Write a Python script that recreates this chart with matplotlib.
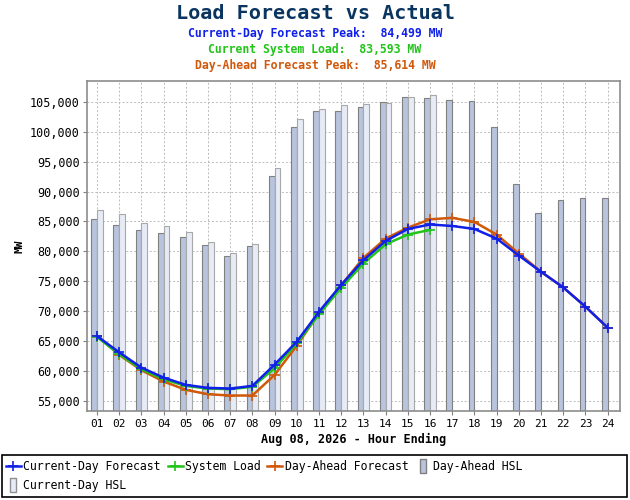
import numpy as np
import matplotlib
matplotlib.use("Agg")
import matplotlib.pyplot as plt
from matplotlib.lines import Line2D
from matplotlib.patches import Rectangle
from matplotlib.ticker import FuncFormatter

plt.rcParams['font.family'] = ['DejaVu Sans Mono']

hours = list(range(1, 25))
hour_labels = ["%02d" % h for h in hours]

current_day_fc = [65840, 63120, 60560, 58890, 57670, 57170, 57060, 57500, 61060, 64900,
                  69900, 74400, 78520, 81750, 83750, 84499, 84250, 83750, 82140, 79300,
                  76580, 73960, 70740, 67230]
system_load = [65700, 62800, 60300, 58600, 57500, 57050, 56950, 57350, 60450, 64620,
               69460, 73910, 77970, 81190, 82810, 83593]
day_ahead_fc = [65900, 62700, 60120, 58230, 56840, 56110, 55890, 55890, 59340, 64230,
                69700, 74350, 78910, 82140, 83970, 85360, 85614, 84920, 82810, 79640,
                76580, 73960, 70740, 67230]
day_ahead_hsl = [85480, 84360, 83530, 83140, 82470, 81140, 79250, 80860, 92540, 100770,
                 103440, 103440, 104220, 105000, 105880, 105660, 105330, 105220, 100770, 91310,
                 86370, 88650, 88920, 88980]
current_day_hsl = [86980, 86310, 84750, 84250, 83310, 81640, 79690, 81300, 93980, 102210,
                   103770, 104490, 104660, 104770, 105770, 106110]

blue = '#1020e8'
green = '#22c41a'
orange = '#d0580a'
da_bar = '#b8c4de'
cd_bar = '#e6ebf6'

fig = plt.figure(figsize=(6.3, 5.0), dpi=100)
ax = fig.add_axes([0.138, 0.178, 0.846, 0.66])

h = np.array(hours)
w = 0.26
ax.bar(h - w, day_ahead_hsl, width=w, align='edge', color=da_bar, edgecolor='#808080',
       linewidth=0.8, zorder=2)
ax.bar(h[:len(current_day_hsl)], current_day_hsl, width=w, align='edge', color=cd_bar,
       edgecolor='#a8a8a8', linewidth=0.8, zorder=2)

ax.plot(h, day_ahead_fc, color=orange, lw=1.8, marker='+', ms=6.5, mew=1.2, zorder=3)
ax.plot(h[:len(system_load)], system_load, color=green, lw=1.8, marker='+', ms=6.5, mew=1.2, zorder=4)
ax.plot(h, current_day_fc, color=blue, lw=1.8, marker='+', ms=6.5, mew=1.2, zorder=5)

ax.set_xlim(0.55, 24.55)
ax.set_ylim(53300, 108500)
ax.set_xticks(hours)
ax.set_xticklabels(hour_labels, fontsize=8)
ax.set_yticks(range(55000, 105001, 5000))
ax.yaxis.set_major_formatter(FuncFormatter(lambda v, p: "{:,.0f}".format(v)))
ax.tick_params(axis='y', labelsize=8.5, length=3, color='#808080', pad=2)
ax.tick_params(axis='x', length=3, color='#808080', pad=3)
ax.grid(True, color='#bbbbbb', linestyle=(0, (2, 2)), linewidth=0.7, zorder=0)
ax.set_axisbelow(True)
for s in ax.spines.values():
    s.set_color('#8c8c8c')
    s.set_linewidth(1.2)

ax.set_ylabel('MW', fontsize=8, fontweight='bold', labelpad=4)
fig.text(0.561, 0.122, 'Aug 08, 2026 - Hour Ending', ha='center', va='center',
         fontsize=8.5, fontweight='bold')

fig.text(0.5, 0.973, 'Load Forecast vs Actual', ha='center', va='center',
         fontsize=14.5, fontweight='bold', color='#0a3560')
fig.text(0.5, 0.934, 'Current-Day Forecast Peak:  84,499 MW', ha='center', va='center',
         fontsize=8.3, fontweight='bold', color=blue)
fig.text(0.5, 0.902, 'Current System Load:  83,593 MW', ha='center', va='center',
         fontsize=8.3, fontweight='bold', color=green)
fig.text(0.5, 0.870, 'Day-Ahead Forecast Peak:  85,614 MW', ha='center', va='center',
         fontsize=8.3, fontweight='bold', color=orange)

bar_marker = [(-0.5, -1), (0.5, -1), (0.5, 1), (-0.5, 1), (-0.5, -1)]
handles = [
    Line2D([], [], color=blue, lw=1.8, marker='+', ms=6.5, mew=1.2),
    Line2D([], [], ls='none', marker=bar_marker, ms=10, mfc=cd_bar, mec='#909090'),
    Line2D([], [], color=green, lw=1.8, marker='+', ms=6.5, mew=1.2),
    Line2D([], [], color=orange, lw=1.8, marker='+', ms=6.5, mew=1.2),
    Line2D([], [], ls='none', marker=bar_marker, ms=10, mfc=da_bar, mec='#808080'),
]
labels = ['Current-Day Forecast', 'Current-Day HSL', 'System Load',
          'Day-Ahead Forecast', 'Day-Ahead HSL']
fig.legend(handles, labels, loc='upper left', bbox_to_anchor=(0.003, 0.088), ncol=4,
           frameon=False, fontsize=8.3, handlelength=1.3, handletextpad=0.2,
           columnspacing=0.6, labelspacing=0.55, borderaxespad=0, borderpad=0.35)
fig.patches.append(Rectangle((0.003, 0.006), 0.992, 0.084, transform=fig.transFigure,
                             fill=False, edgecolor='black', linewidth=1.2))

fig.savefig('out.png', dpi=100)
